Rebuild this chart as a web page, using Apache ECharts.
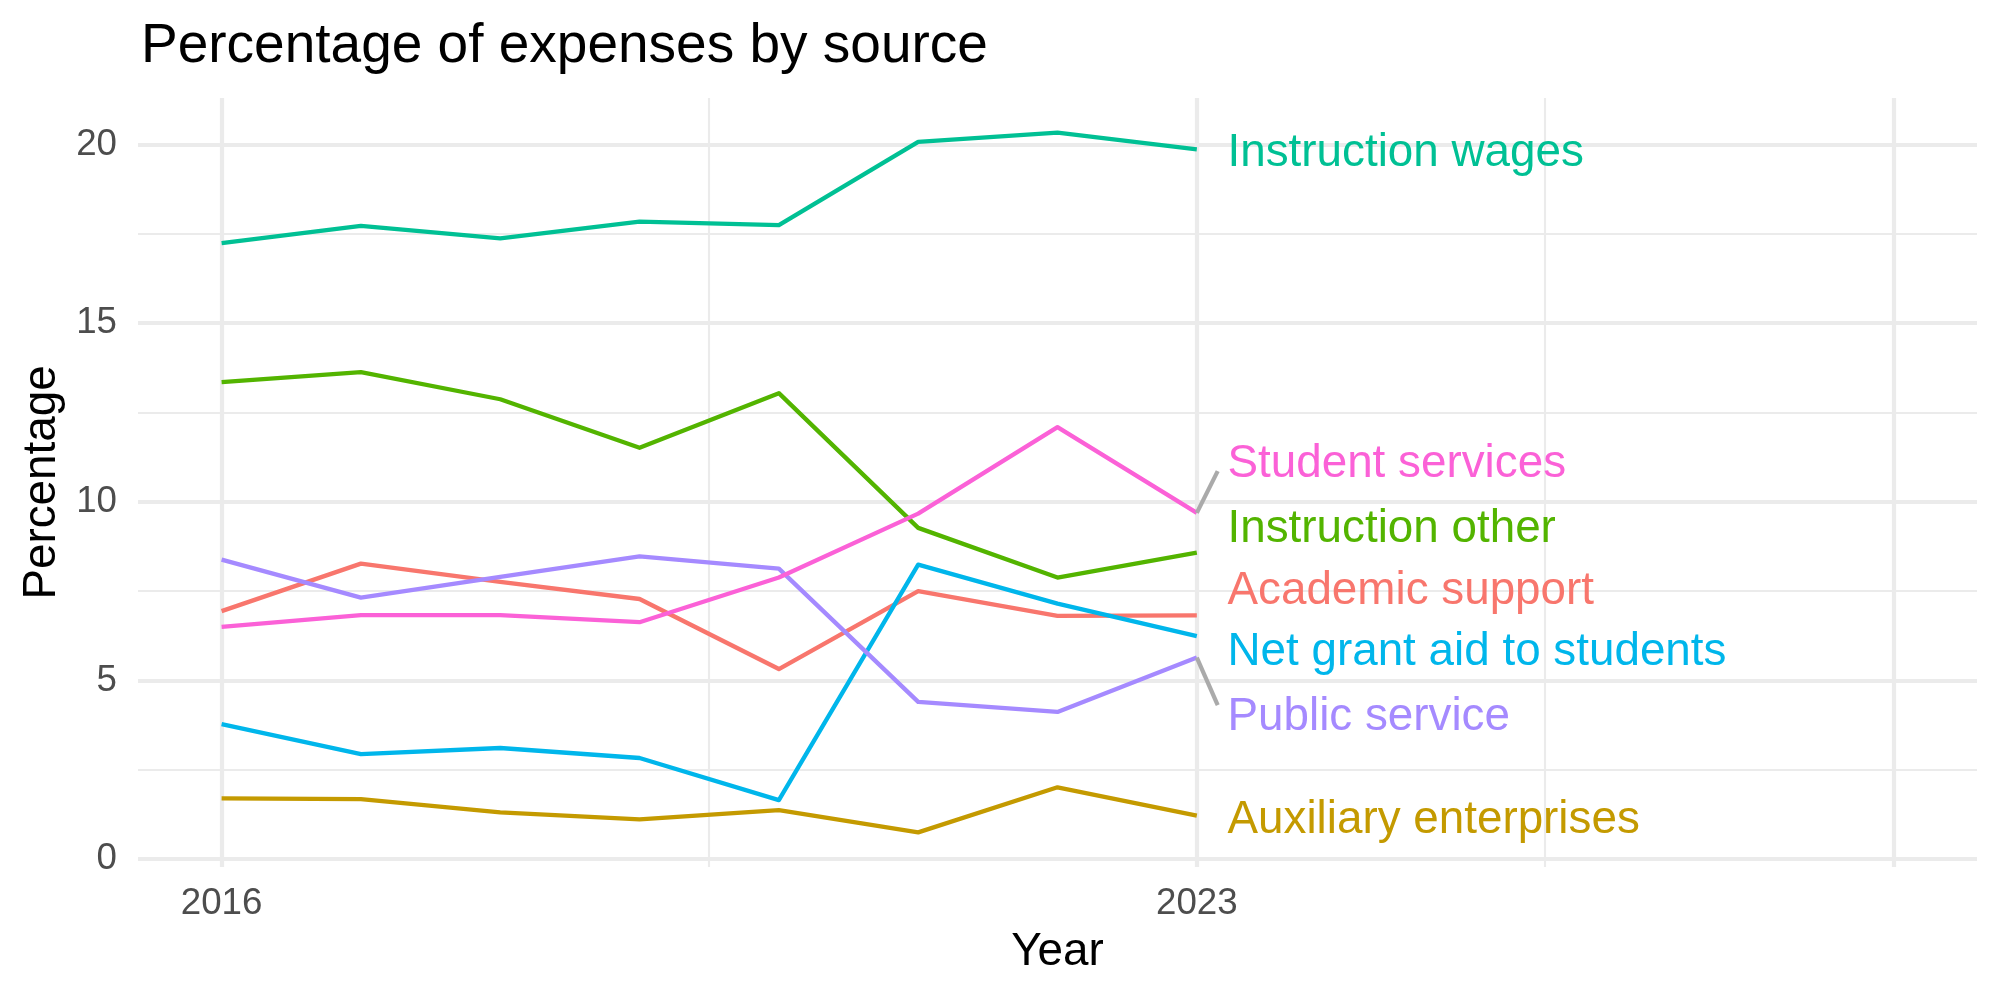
<!DOCTYPE html>
<html>
<head>
<meta charset="utf-8">
<script src="https://cdn.jsdelivr.net/npm/echarts@6/dist/echarts.min.js"></script>
<style>
html,body{margin:0;padding:0;background:#fff;}
#chart{width:2000px;height:1000px;}
</style>
</head>
<body>
<div id="chart"></div>
<script>
// ---- data ----
const years = [2016, 2017, 2018, 2019, 2020, 2021, 2022, 2023];
const seriesNames = ["Academic support", "Auxiliary enterprises", "Instruction other", "Instruction wages", "Net grant aid to students", "Public service", "Student services"];
const academicSupport = [6.94, 8.27, 7.76, 7.28, 5.32, 7.50, 6.81, 6.82];
const auxiliaryEnterprises = [1.70, 1.68, 1.31, 1.11, 1.37, 0.75, 2.01, 1.22];
const instructionOther = [13.35, 13.63, 12.87, 11.51, 13.04, 9.27, 7.88, 8.58];
const instructionWages = [17.24, 17.72, 17.37, 17.84, 17.74, 20.07, 20.33, 19.86];
const netGrantAid = [3.78, 2.94, 3.11, 2.83, 1.65, 8.24, 7.15, 6.24];
const publicService = [8.38, 7.32, 7.90, 8.47, 8.13, 4.40, 4.12, 5.64];
const studentServices = [6.50, 6.83, 6.83, 6.63, 7.88, 9.67, 12.09, 9.69];
// label placement (repelled label y positions, in data units)
const labelYs = [7.50, 1.08, 9.24, 19.74, 5.78, 3.96, 11.06];
const labelX = 2023.22;
// connector segment ends for repelled labels (series index -> end y)
const connectorX = 2023.15;
const connectorEnds = { 5: 4.31, 6: 10.86 };
// axis ticks
const xTickLabels = [2016, 2023];
const xMajorGrid = [2016, 2023, 2028];
const xMinorGrid = [2019.5, 2025.5];
const yTickLabels = [0, 5, 10, 15, 20];
const yMinorGrid = [2.5, 7.5, 12.5, 17.5];

const colors = ["#F8766D", "#C49A00", "#53B400", "#00C094", "#00B6EB", "#A58AFF", "#FB61D7"];
const allValues = [academicSupport, auxiliaryEnterprises, instructionOther, instructionWages, netGrantAid, publicService, studentServices];

const FONT = "Liberation Sans, Arial, Helvetica, sans-serif";
const GRID_COLOR = "#EBEBEB";

const gridLines = [];
xMajorGrid.forEach(v => gridLines.push({ xAxis: v, lineStyle: { width: 4.2, color: GRID_COLOR, type: 'solid' } }));
xMinorGrid.forEach(v => gridLines.push({ xAxis: v, lineStyle: { width: 2.1, color: GRID_COLOR, type: 'solid' } }));
yTickLabels.forEach(v => gridLines.push({ yAxis: v, lineStyle: { width: 4.2, color: GRID_COLOR, type: 'solid' } }));
yMinorGrid.forEach(v => gridLines.push({ yAxis: v, lineStyle: { width: 2.1, color: GRID_COLOR, type: 'solid' } }));

const series = [];
series.push({
  name: 'grid', type: 'line', z: 0, data: [[2016, 0]], symbol: 'none', showSymbol: false,
  lineStyle: { opacity: 0 }, silent: true,
  markLine: { z: 0, silent: true, symbol: ['none', 'none'], label: { show: false }, animation: false, data: gridLines }
});

seriesNames.forEach((name, i) => {
  series.push({
    name: name, type: 'line', z: 2 + i, symbol: 'none', showSymbol: false,
    data: years.map((y, k) => [y, allValues[i][k]]),
    lineStyle: { color: colors[i], width: 4.3, cap: 'butt', join: 'round' },
    animation: false
  });
});

// connector segments
Object.keys(connectorEnds).forEach(k => {
  const i = +k;
  const vals = allValues[i];
  series.push({
    name: 'seg' + i, type: 'line', z: 20, symbol: 'none', showSymbol: false,
    data: [[years[years.length - 1], vals[vals.length - 1]], [connectorX, connectorEnds[k]]],
    lineStyle: { color: '#AAAAAA', width: 4.2 }, animation: false, silent: true
  });
});

// text labels
series.push({
  name: 'labels', type: 'scatter', z: 30, symbolSize: 0, animation: false, silent: true,
  itemStyle: { opacity: 1 },
  data: seriesNames.map((name, i) => ({
    value: [labelX, labelYs[i]],
    itemStyle: { opacity: 1, color: colors[i] },
    label: {
      show: true, position: 'right', distance: 0, formatter: name, opacity: 1,
      color: colors[i], fontSize: 45.8, fontFamily: FONT, verticalAlign: 'middle'
    }
  }))
});

const chart = echarts.init(document.getElementById('chart'), null, { renderer: 'canvas' });
chart.setOption({
  backgroundColor: '#ffffff',
  animation: false,
  title: {
    text: 'Percentage of expenses by source', left: 136, top: 14,
    textStyle: { fontFamily: FONT, fontSize: 55, fontWeight: 'normal', color: '#000000' }
  },
  grid: { left: 138, right: 23, top: 98, bottom: 133, containLabel: false, outerBoundsMode: 'none' },
  xAxis: {
    type: 'value', min: 2015.4, max: 2028.6,
    name: 'Year', nameLocation: 'middle', nameGap: 62,
    nameTextStyle: { fontFamily: FONT, fontSize: 45.8, color: '#000000' },
    axisLine: { show: false }, axisTick: { show: false }, splitLine: { show: false },
    axisLabel: { customValues: xTickLabels, formatter: v => String(v), fontFamily: FONT, fontSize: 36.7, color: '#4D4D4D', margin: 18 }
  },
  yAxis: {
    type: 'value', min: -0.22, max: 21.3,
    name: 'Percentage', nameLocation: 'middle', nameGap: 73, nameRotate: 90,
    nameTextStyle: { fontFamily: FONT, fontSize: 45.8, color: '#000000' },
    axisLine: { show: false }, axisTick: { show: false }, splitLine: { show: false },
    axisLabel: { customValues: yTickLabels, formatter: v => String(v), fontFamily: FONT, fontSize: 36.7, color: '#4D4D4D', margin: 21 }
  },
  series: series
});
</script>
</body>
</html>
